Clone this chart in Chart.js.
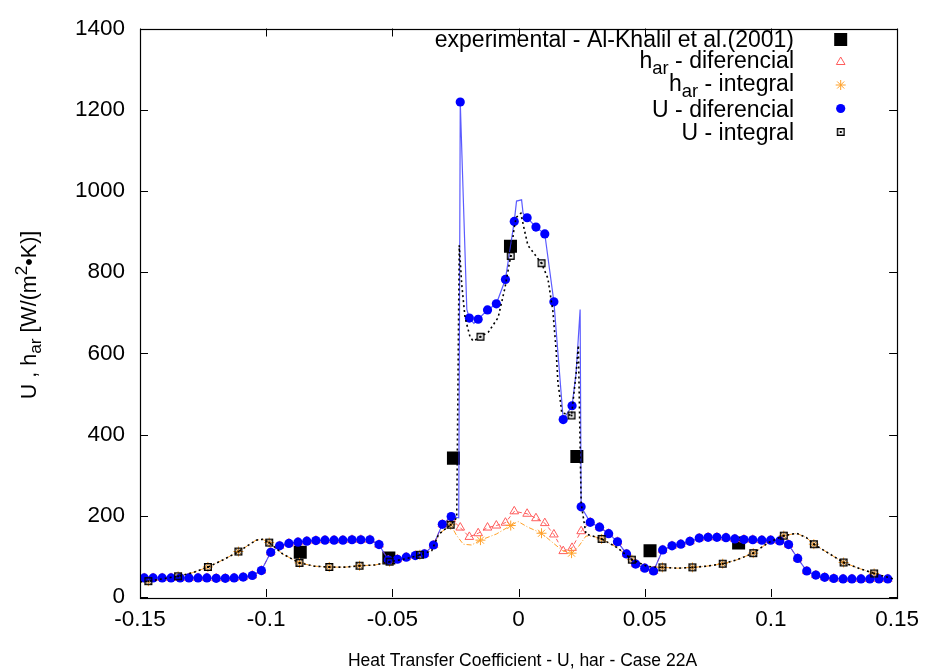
<!DOCTYPE html>
<html>
<head>
<meta charset="utf-8">
<script src="https://cdn.jsdelivr.net/npm/chart.js@4.4.1/dist/chart.umd.min.js"></script>
<style>
  html, body { margin: 0; padding: 0; background: #ffffff; }
  #wrap { width: 928px; height: 669px; }
</style>
</head>
<body>
<div id="wrap"><canvas id="c" width="928" height="669"></canvas></div>
<script>
// ---- axis ticks ----
const xTickValues = [-0.15, -0.1, -0.05, 0, 0.05, 0.1, 0.15];
const xTickLabels = ['-0.15', '-0.1', '-0.05', '0', '0.05', '0.1', '0.15'];
const yTickValues = [0, 200, 400, 600, 800, 1000, 1200, 1400];
const yTickLabels = ['0', '200', '400', '600', '800', '1000', '1200', '1400'];

// ---- experimental - Al-Khalil et al.(2001) ----
const expX = [-0.0865, -0.0514, -0.0258, -0.0032, 0.0231, 0.0521, 0.0872];
const expY = [110, 96, 342, 864, 346, 114, 133];

// ---- differential model: nodes ----
const diffX = [-0.1483, -0.1448, -0.1412, -0.1377, -0.1341, -0.1306, -0.1270, -0.1235, -0.1198, -0.1162,
  -0.1127, -0.1091, -0.1055, -0.1019, -0.0982, -0.0947, -0.0910, -0.0874, -0.0839, -0.0803,
  -0.0767, -0.0731, -0.0696, -0.0660, -0.0625, -0.0589, -0.0553, -0.0516, -0.0480, -0.0445,
  -0.0409, -0.0373, -0.0337, -0.0302,
  -0.0267, -0.0231, -0.0195, -0.0160, -0.0123, -0.0088, -0.0052, -0.0017,
  0.0034, 0.0069, 0.0104, 0.0140, 0.0177, 0.0212, 0.0248, 0.0284,
  0.0321, 0.0357, 0.0392, 0.0428, 0.0464, 0.0500, 0.0535, 0.0571, 0.0608, 0.0643,
  0.0679, 0.0716, 0.0751, 0.0786, 0.0822, 0.0857, 0.0893, 0.0928, 0.0964, 0.0999,
  0.1035, 0.1070, 0.1106, 0.1142, 0.1178, 0.1213, 0.1249, 0.1286, 0.1321, 0.1357,
  0.1392, 0.1428, 0.1463];
// U - diferencial
const uDiffY = [47, 47, 47, 47, 47, 47, 47, 47, 46, 46,
  47, 49, 53, 65, 110, 126, 132, 135, 137.5, 139,
  140, 140, 140, 141, 141, 141, 129, 91, 93, 98,
  102, 106, 128, 179,
  198, 1219, 687, 684, 707, 722, 782, 925,
  934, 911, 894, 727, 437, 471, 222, 184,
  172, 156, 136, 106, 81, 71, 64, 116, 126, 130,
  137, 145, 147, 147, 146, 143, 141.5, 141, 140, 140,
  138, 129, 95, 64, 54, 48.5, 45.5, 44.5, 44.5, 44.5,
  44.5, 44.5, 44.5];
// h_ar - diferencial
const hDiffY = [47, 47, 47, 47, 47, 47, 47, 47, 46, 46,
  47, 49, 53, 65, 110, 126, 132, 135, 137.5, 139,
  140, 140, 140, 141, 141, 141, 129, 91, 93, 98,
  102, 106, 128, 179,
  192, 171, 148, 157, 171, 176, 183, 211,
  205, 194, 182, 154, 113, 121, 162, 184,
  172, 156, 136, 106, 81, 71, 64, 116, 126, 130,
  137, 145, 147, 147, 146, 143, 141.5, 141, 140, 140,
  138, 129, 95, 64, 54, 48.5, 45.5, 44.5, 44.5, 44.5,
  44.5, 44.5, 44.5];
// extra nodes of the U - diferencial profile (peaks between plotted nodes)
const uDiffPeakX = [-0.0237, -0.0205, -0.0177, -0.0008, 0.0012, 0.0018, 0.0228, 0.0244];
const uDiffPeakY = [195, 708, 674, 975, 978, 945, 551, 708];

// ---- integral model: plotted nodes ----
const intX = [-0.1467, -0.1349, -0.1231, -0.1110, -0.0988, -0.0868, -0.0750, -0.0630, -0.0511, -0.0391,
  -0.0269, -0.0151, -0.0031, 0.0091, 0.0210, 0.0329, 0.0449, 0.0570, 0.0689, 0.0809,
  0.0930, 0.1051, 0.1170, 0.1288, 0.1409];
const uIntY = [39, 51, 74, 112, 134, 84, 74, 77, 87, 104,
  178, 641, 840, 822, 447, 143, 92, 73, 73, 82,
  108, 151, 130, 85, 58];
const hIntY = [39, 51, 74, 112, 134, 84, 74, 77, 87, 104,
  178, 140, 176, 157, 108, 143, 92, 73, 73, 82,
  108, 151, 130, 85, 58];

// U - integral profile (full resolution)
const uIntCurveX = [-0.1500, -0.1467, -0.1409, -0.1349, -0.1291, -0.1231, -0.1169, -0.1110, -0.1040, -0.1014,
  -0.0988, -0.0935, -0.0868, -0.0810, -0.0750, -0.0685, -0.0630, -0.0567, -0.0511, -0.0449,
  -0.0391, -0.0344, -0.0317, -0.0269, -0.0245, -0.0235, -0.0225, -0.0212, -0.0192, -0.0179,
  -0.0151, -0.0120, -0.0081, -0.0054, -0.0031, -0.0018, -0.0009, 0.0009, 0.0022, 0.0037,
  0.0091, 0.0116, 0.0136, 0.0149, 0.0156, 0.0162, 0.0171, 0.0210, 0.0228, 0.0237,
  0.0248, 0.0267, 0.0294, 0.0329, 0.0390, 0.0449, 0.0511, 0.0570, 0.0629, 0.0689,
  0.0747, 0.0809, 0.0865, 0.0930, 0.0990, 0.1051, 0.1102, 0.1141, 0.1170, 0.1233,
  0.1288, 0.1351, 0.1409, 0.1483];
const uIntCurveY = [37, 38.8, 45, 51, 60, 73.6, 92, 111.6, 140, 142,
  134, 106, 84, 76, 73.6, 73.6, 76.9, 79, 86.6, 94,
  103.5, 114, 154, 178, 195, 866, 769, 688, 640, 630,
  641, 652, 688, 761, 840, 907, 935, 945, 907, 866,
  822, 785, 704, 607, 527, 502, 454, 447, 551, 620,
  231, 155, 150, 143, 122, 92, 75, 72.8, 71, 72.8,
  76, 81.7, 91.5, 108, 134, 151, 157, 146, 130, 106,
  85, 70, 58.2, 45];
// h_ar - integral profile in the central region (elsewhere it follows U - integral)
const hIntCenterX = [-0.0269, -0.0246, -0.0219, -0.0186, -0.0151, -0.0088, -0.0031, -0.0002, 0.0037, 0.0091,
  0.0143, 0.0175, 0.0210, 0.0235, 0.0267, 0.0294, 0.0329];
const hIntCenterY = [178, 152, 130, 128, 140, 155, 176, 186, 172, 157,
  130, 114, 107.5, 122, 150, 150, 143];

// ---------------------------------------------------------------
const FONT = '"Liberation Sans", Arial, Helvetica, sans-serif';
const pts = (xs, ys) => xs.map((x, i) => ({ x: x, y: ys[i] }));
const byX = (a, b) => a.x - b.x;

const uDiffCurve = pts(diffX, uDiffY).concat(pts(uDiffPeakX, uDiffPeakY)).sort(byX);
const uIntCurve = pts(uIntCurveX, uIntCurveY);
const lo = hIntCenterX[0], hi = hIntCenterX[hIntCenterX.length - 1];
const hIntCurve = uIntCurve.filter(p => p.x < lo)
  .concat(pts(hIntCenterX, hIntCenterY))
  .concat(uIntCurve.filter(p => p.x > hi));

// open square with a centre dot (U - integral marker)
function boxDot() {
  const c = document.createElement('canvas');
  c.width = 10; c.height = 10;
  const g = c.getContext('2d');
  g.strokeStyle = '#000'; g.lineWidth = 1.4;
  g.strokeRect(1.7, 1.7, 6.6, 6.6);
  g.fillStyle = '#000';
  g.fillRect(4, 4, 2, 2);
  return c;
}
const boxDotImg = boxDot();

const COL = {
  exp: '#000000',
  hDiff: '#ff5c5c',
  hInt: '#ffa028',
  uDiff: '#0000ff',
  uDiffLine: 'rgba(50,50,255,0.8)',
  uInt: '#000000'
};

// frame with inward ticks on all four sides
const framePlugin = {
  id: 'frame',
  afterDatasetsDraw(chart) {
    const { ctx, chartArea: a, scales: { x, y } } = chart;
    ctx.save();
    ctx.strokeStyle = '#000';
    ctx.lineWidth = 1;
    ctx.beginPath();
    const L = 8;
    xTickValues.forEach(v => {
      const px = Math.round(x.getPixelForValue(v)) + 0.5;
      ctx.moveTo(px, a.bottom); ctx.lineTo(px, a.bottom - L);
      ctx.moveTo(px, a.top); ctx.lineTo(px, a.top + L);
    });
    yTickValues.forEach(v => {
      const py = Math.round(y.getPixelForValue(v)) + 0.5;
      ctx.moveTo(a.left, py); ctx.lineTo(a.left + L, py);
      ctx.moveTo(a.right, py); ctx.lineTo(a.right - L, py);
    });
    ctx.stroke();
    ctx.lineWidth = 1.2;
    ctx.strokeRect(Math.round(a.left) + 0.5, Math.round(a.top) + 0.5,
      Math.round(a.right - a.left), Math.round(a.bottom - a.top));
    ctx.restore();
  }
};

// text made of runs (normal / subscript / superscript)
function runWidth(ctx, runs, size) {
  let w = 0;
  runs.forEach(r => {
    ctx.font = (r.k ? size * 0.8 : size) + 'px ' + FONT;
    w += ctx.measureText(r.t).width;
  });
  return w;
}
function drawRuns(ctx, runs, x0, base, size) {
  let x = x0;
  runs.forEach(r => {
    const s = r.k ? size * 0.8 : size;
    ctx.font = s + 'px ' + FONT;
    const dy = r.k === 'sub' ? size * 0.25 : (r.k === 'sup' ? -size * 0.42 : 0);
    ctx.fillText(r.t, x, base + dy);
    x += ctx.measureText(r.t).width;
  });
}

function drawMarker(ctx, kind, x, y) {
  ctx.save();
  if (kind === 'exp') {
    ctx.fillStyle = COL.exp; ctx.fillRect(x - 6.5, y - 6.5, 13, 13);
  } else if (kind === 'tri') {
    const r = 5;
    ctx.strokeStyle = COL.hDiff; ctx.lineWidth = 1;
    ctx.beginPath();
    for (let i = 0; i < 3; i++) {
      const ang = i * 2 * Math.PI / 3;
      const px = x + Math.sin(ang) * r, py = y - Math.cos(ang) * r;
      if (i === 0) ctx.moveTo(px, py); else ctx.lineTo(px, py);
    }
    ctx.closePath(); ctx.stroke();
  } else if (kind === 'star') {
    const r = 5;
    ctx.strokeStyle = COL.hInt; ctx.lineWidth = 1;
    ctx.beginPath();
    ctx.moveTo(x - r, y); ctx.lineTo(x + r, y);
    ctx.moveTo(x, y - r); ctx.lineTo(x, y + r);
    const d = r * Math.SQRT1_2;
    ctx.moveTo(x - d, y - d); ctx.lineTo(x + d, y + d);
    ctx.moveTo(x - d, y + d); ctx.lineTo(x + d, y - d);
    ctx.stroke();
  } else if (kind === 'dot') {
    ctx.fillStyle = COL.uDiff;
    ctx.beginPath(); ctx.arc(x, y, 4.6, 0, Math.PI * 2); ctx.fill();
  } else if (kind === 'box') {
    ctx.drawImage(boxDotImg, x - 5, y - 5);
  }
  ctx.restore();
}

const legendRows = [
  { runs: [{ t: 'experimental - Al-Khalil et al.(2001)' }], mark: 'exp' },
  { runs: [{ t: 'h' }, { t: 'ar', k: 'sub' }, { t: ' - diferencial' }], mark: 'tri' },
  { runs: [{ t: 'h' }, { t: 'ar', k: 'sub' }, { t: ' - integral' }], mark: 'star' },
  { runs: [{ t: 'U - diferencial' }], mark: 'dot' },
  { runs: [{ t: 'U - integral' }], mark: 'box' }
];

const textPlugin = {
  id: 'texts',
  afterDraw(chart) {
    const ctx = chart.ctx;
    ctx.save();
    ctx.fillStyle = '#000';
    ctx.textBaseline = 'alphabetic';
    ctx.textAlign = 'left';

    // key
    const keySize = 23, textRight = 794, markX = 840.7;
    const markY = [39.5, 62, 85, 108.5, 132];
    const baseY = [46.5, 68, 91, 116.5, 139.5];
    legendRows.forEach((row, i) => {
      const w = runWidth(ctx, row.runs, keySize);
      ctx.fillStyle = '#000';
      drawRuns(ctx, row.runs, textRight - w, baseY[i], keySize);
      drawMarker(ctx, row.mark, markX, markY[i]);
    });

    // x axis title
    ctx.fillStyle = '#000';
    ctx.font = '17.5px ' + FONT;
    ctx.textAlign = 'center';
    ctx.fillText('Heat Transfer Coefficient - U, har - Case 22A', 522.5, 666);

    // y axis title (rotated)
    const ySize = 21.5;
    const yRuns = [{ t: 'U , h' }, { t: 'ar', k: 'sub' }, { t: ' [W/(m' }, { t: '2', k: 'sup' }, { t: '\u2022K)]' }];
    ctx.textAlign = 'left';
    const w = runWidth(ctx, yRuns, ySize);
    ctx.translate(36, 315);
    ctx.rotate(-Math.PI / 2);
    drawRuns(ctx, yRuns, -w / 2, 0, ySize);
    ctx.restore();
  }
};

new Chart(document.getElementById('c'), {
  type: 'scatter',
  data: {
    datasets: [
      { label: 'experimental - Al-Khalil et al.(2001)', data: pts(expX, expY), order: 9,
        pointStyle: 'rect', pointRadius: 9.2, backgroundColor: COL.exp, borderColor: COL.exp, borderWidth: 0 },
      { label: 'h_ar - diferencial (profile)', data: pts(diffX, hDiffY), order: 8, showLine: true,
        pointRadius: 0, borderColor: COL.hDiff, borderWidth: 1, borderDash: [4, 3] },
      { label: 'h_ar - diferencial', data: pts(diffX, hDiffY), order: 7,
        pointStyle: 'triangle', pointRadius: 5, borderWidth: 1, borderColor: COL.hDiff, backgroundColor: 'rgba(0,0,0,0)' },
      { label: 'h_ar - integral (profile)', data: hIntCurve, order: 6, showLine: true,
        pointRadius: 0, borderColor: COL.hInt, borderWidth: 1, borderDash: [5, 2, 1, 2] },
      { label: 'h_ar - integral', data: pts(intX, hIntY), order: 5,
        pointStyle: 'star', pointRadius: 5, borderWidth: 1, borderColor: COL.hInt, backgroundColor: COL.hInt },
      { label: 'U - diferencial (profile)', data: uDiffCurve, order: 4, showLine: true,
        pointRadius: 0, borderColor: COL.uDiffLine, borderWidth: 1.2 },
      { label: 'U - diferencial', data: pts(diffX, uDiffY), order: 3,
        pointStyle: 'circle', pointRadius: 4.6, borderWidth: 0, backgroundColor: COL.uDiff, borderColor: COL.uDiff },
      { label: 'U - integral (profile)', data: uIntCurve, order: 2, showLine: true,
        pointRadius: 0, borderColor: COL.uInt, borderWidth: 1.6, borderDash: [2, 3] },
      { label: 'U - integral', data: pts(intX, uIntY), order: 1,
        pointStyle: boxDotImg, pointRadius: 5 }
    ]
  },
  options: {
    responsive: false,
    animation: false,
    devicePixelRatio: 1,
    layout: { padding: { top: 20, right: 27, left: 0, bottom: 0 } },
    plugins: { legend: { display: false }, tooltip: { enabled: false } },
    scales: {
      x: {
        type: 'linear', min: -0.15, max: 0.15,
        grid: { display: false, drawTicks: false }, border: { display: false },
        afterBuildTicks: s => { s.ticks = xTickValues.map(v => ({ value: v })); },
        afterFit: s => { s.height = 72; },
        ticks: { autoSkip: false, maxRotation: 0, padding: 9, color: '#000',
          font: { family: FONT, size: 22.5 }, callback: (v, i) => xTickLabels[i] }
      },
      y: {
        type: 'linear', min: 0, max: 1400,
        grid: { display: false, drawTicks: false }, border: { display: false },
        afterBuildTicks: s => { s.ticks = yTickValues.map(v => ({ value: v })); },
        afterFit: s => { s.width = 140; },
        ticks: { autoSkip: false, padding: 15, color: '#000',
          font: { family: FONT, size: 22.5 }, callback: (v, i) => yTickLabels[i] }
      }
    }
  },
  plugins: [framePlugin, textPlugin]
});
</script>
</body>
</html>
